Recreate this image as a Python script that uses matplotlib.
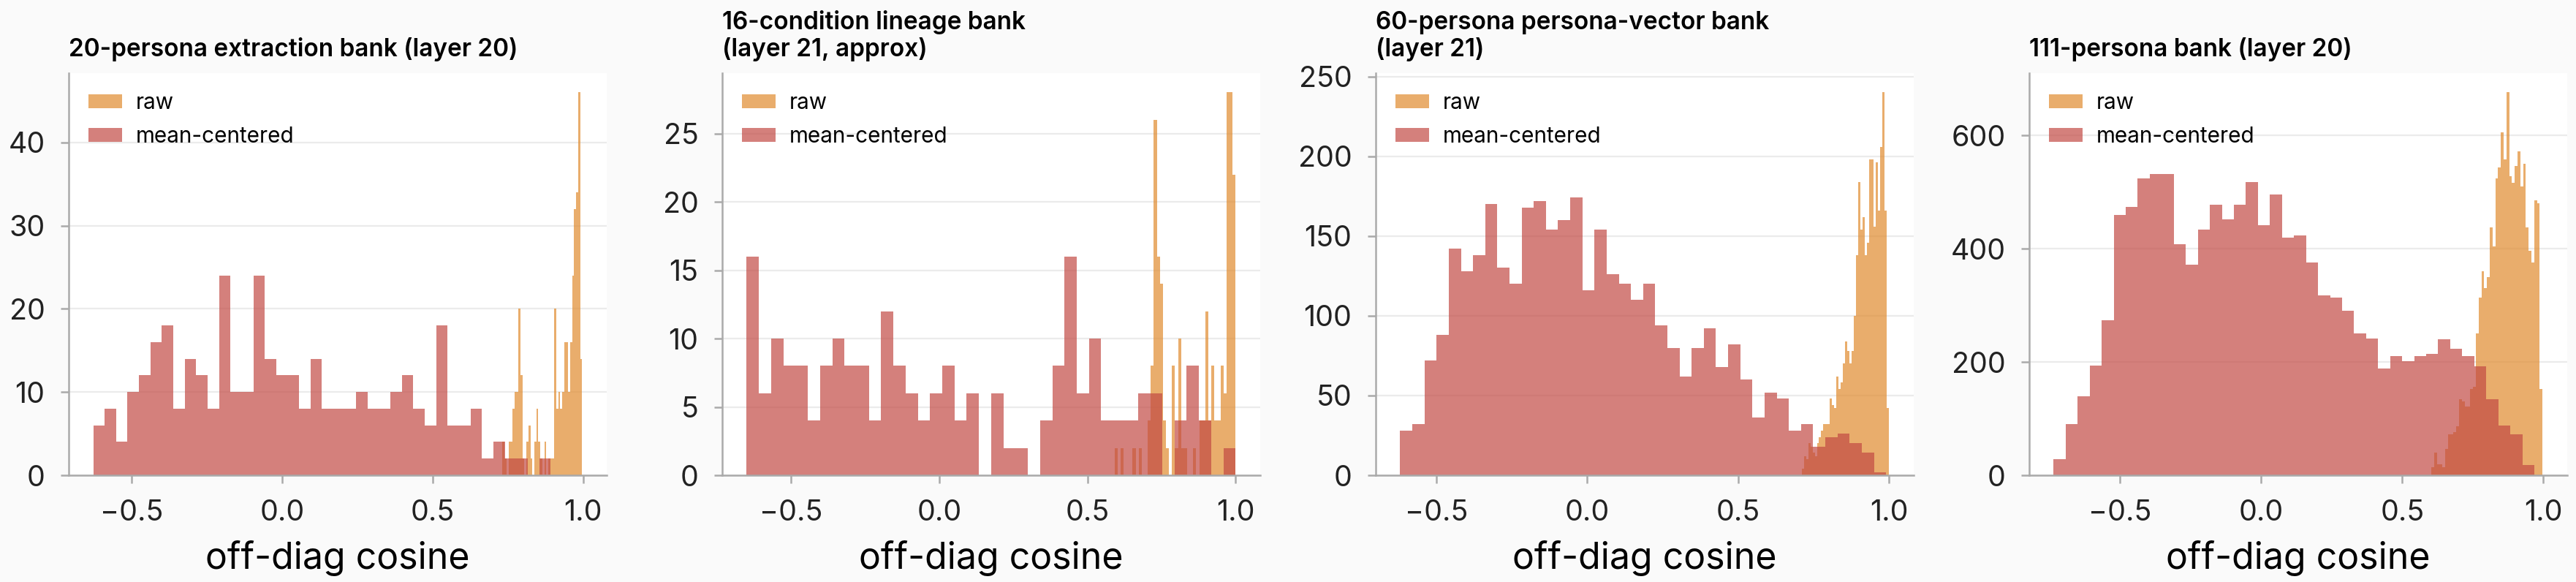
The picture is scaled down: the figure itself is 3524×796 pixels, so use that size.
import numpy as np
import matplotlib.pyplot as plt

plt.rcParams['font.family'] = ['Inter', 'DejaVu Sans']

titles = [
    "20-persona extraction bank (layer 20)",
    "16-condition lineage bank\n(layer 21, approx)",
    "60-persona persona-vector bank\n(layer 21)",
    "111-persona bank (layer 20)",
]

# bin ranges (min, max) of each histogram, 40 bins each
raw_ranges = [(0.732, 0.997), (0.591, 1.0), (0.710, 1.0), (0.603, 0.997)]
centered_ranges = [(-0.628, 0.892), (-0.650, 1.0), (-0.620, 0.990), (-0.735, 0.968)]

raw_20 = [4, 2, 0, 4, 4, 8, 10, 10, 20, 12, 2, 0, 4, 6, 2, 0, 4, 8, 4, 2,
          0, 4, 0, 2, 2, 2, 20, 8, 10, 8, 10, 16, 16, 10, 16, 24, 32, 34, 46, 14]
centered_20 = [6, 8, 4, 10, 12, 16, 18, 8, 14, 12, 8, 24, 10, 10, 24, 14, 12, 12, 8, 14,
               8, 8, 8, 10, 8, 8, 10, 12, 8, 6, 18, 6, 6, 8, 2, 4, 2, 2, 0, 2]

raw_16 = [2, 0, 2, 0, 0, 0, 2, 0, 2, 0, 0, 4, 8, 26, 16, 14, 4, 2, 0, 8,
          2, 10, 2, 2, 0, 0, 2, 0, 4, 4, 12, 4, 8, 4, 4, 8, 6, 28, 28, 22]
centered_16 = [16, 6, 10, 8, 8, 4, 8, 10, 8, 8, 4, 12, 8, 6, 4, 6, 8, 4, 6, 0,
               6, 2, 2, 0, 4, 8, 16, 6, 10, 4, 4, 4, 6, 6, 0, 4, 8, 4, 0, 2]

raw_60 = [4, 12, 10, 20, 18, 14, 12, 20, 24, 28, 32, 32, 32, 48, 44, 42, 62, 54, 58, 70,
          84, 78, 70, 78, 100, 138, 184, 154, 162, 138, 146, 198, 198, 156, 196, 166, 206, 240, 166, 42]
centered_60 = [28, 32, 72, 88, 142, 128, 138, 170, 130, 120, 168, 172, 154, 160, 174, 116, 154, 126, 120, 110,
               120, 94, 80, 62, 80, 92, 68, 82, 60, 36, 52, 48, 28, 32, 18, 24, 26, 20, 14, 2]

raw_111 = [14, 40, 20, 20, 14, 46, 72, 72, 76, 86, 134, 130, 122, 122, 152, 156, 250, 314, 360, 330,
           350, 438, 404, 524, 544, 606, 558, 676, 528, 516, 546, 572, 510, 550, 438, 396, 376, 486, 480, 152]
centered_111 = [28, 90, 140, 194, 274, 460, 474, 524, 532, 532, 408, 372, 434, 478, 452, 478, 518, 442, 496, 420,
                424, 376, 318, 314, 290, 250, 242, 188, 210, 202, 210, 214, 240, 224, 210, 192, 134, 88, 72, 18]

raw_counts = [raw_20, raw_16, raw_60, raw_111]
centered_counts = [centered_20, centered_16, centered_60, centered_111]

RAW_COLOR = "#E08A2E"
CEN_COLOR = "#C24A44"

fig, axes = plt.subplots(1, 4, figsize=(17.62, 3.98), dpi=200)
fig.patch.set_facecolor("#fafafa")
fig.subplots_adjust(left=0.0267, right=0.9965, bottom=0.1834, top=0.874, wspace=0.215)

for ax, title, raw, cen, rr, cr in zip(axes, titles, raw_counts, centered_counts,
                                       raw_ranges, centered_ranges):
    r_edges = np.linspace(rr[0], rr[1], len(raw) + 1)
    c_edges = np.linspace(cr[0], cr[1], len(cen) + 1)
    r_mid = 0.5 * (r_edges[:-1] + r_edges[1:])
    c_mid = 0.5 * (c_edges[:-1] + c_edges[1:])

    ax.hist(r_mid, bins=r_edges, weights=raw, color=RAW_COLOR, alpha=0.7, label="raw")
    ax.hist(c_mid, bins=c_edges, weights=cen, color=CEN_COLOR, alpha=0.7, label="mean-centered")

    ax.set_facecolor("white")
    ax.set_title(title, loc="left", fontsize=12, fontweight="semibold", pad=6,
                 va="bottom", linespacing=1.15)
    ax.set_xlabel("off-diag cosine", fontsize=18, labelpad=7)
    ax.set_xticks([-0.5, 0.0, 0.5, 1.0])
    ax.grid(axis="y", color="#ebebeb", linewidth=0.8)
    ax.set_axisbelow(True)
    ax.spines[["top", "right"]].set_visible(False)
    ax.spines[["left", "bottom"]].set_color("#aaaaaa")
    ax.spines[["left", "bottom"]].set_linewidth(0.9)
    ax.tick_params(color="#aaaaaa", labelcolor="#222222", labelsize=14.2, length=4,
                   width=0.9, pad=7.7)
    ax.legend(loc="upper left", frameon=False, fontsize=10.7, handlelength=1.55,
              handleheight=0.64, handletextpad=0.64, labelspacing=0.6)

fig.savefig("out.png", dpi=200, facecolor=fig.get_facecolor())
